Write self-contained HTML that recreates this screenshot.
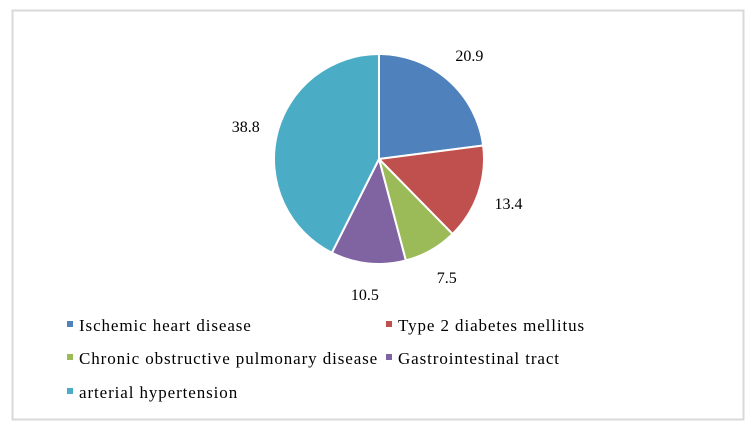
<!DOCTYPE html>
<html><head><meta charset="utf-8"><style>
body{margin:0;width:756px;height:431px;background:#fff;overflow:hidden;position:relative;font-family:"Liberation Serif","Times New Roman","DejaVu Serif",serif}
.t{position:absolute;font-family:"Liberation Serif","Times New Roman","DejaVu Serif",serif;font-size:16px;color:#000;white-space:nowrap;line-height:1}
.lt{font-size:17px;letter-spacing:0.9px}
svg{position:absolute;left:0;top:0}
</style></head><body>
<svg width="756" height="431">
<rect x="12.5" y="10.5" width="731" height="409" fill="#fff" stroke="#d9d9d9" stroke-width="2"/>
<g id="slices"></g><g id="legend"></g>
</svg>
<script>
const categories=["Ischemic heart disease","Type 2 diabetes mellitus","Chronic obstructive pulmonary disease","Gastrointestinal tract","arterial hypertension"];
const values=[20.9,13.4,7.5,10.5,38.8];
const colors=["#4f81bd","#c0504d","#9bbb59","#8064a2","#4bacc6"];
const NS="http://www.w3.org/2000/svg";
const cx=379,cy=159,r=105;
const total=values.reduce((a,b)=>a+b,0);
let a0=0;
const sl=document.getElementById('slices'),lg=document.getElementById('legend');
function pt(a,rr){return [cx+rr*Math.sin(a),cy-rr*Math.cos(a)];}
values.forEach((v,i)=>{
 const a1=a0+v/total*2*Math.PI;
 const p0=pt(a0,r),p1=pt(a1,r);
 const p=document.createElementNS(NS,'path');
 p.setAttribute('d',`M${cx},${cy}L${p0[0]},${p0[1]}A${r},${r} 0 ${a1-a0>Math.PI?1:0} 1 ${p1[0]},${p1[1]}Z`);
 p.setAttribute('fill',colors[i]);p.setAttribute('stroke','#fff');p.setAttribute('stroke-width','2');
 
 
 sl.appendChild(p);
 const m=(a0+a1)/2,lp=pt(m,r+32);
 const t=document.createElement('div');
 t.className='t';
 t.style.left=(lp[0]-14)+'px';t.style.top=(lp[1]-7)+'px';t.style.width='28px';t.style.textAlign='center';
 t.textContent=v;
 
 
 document.body.appendChild(t);
 a0=a1;
});
const lx=[67,386],ly=[325,358,392];
categories.forEach((c,i)=>{
 const x=lx[i%2],y=ly[Math.floor(i/2)];
 const s=document.createElementNS(NS,'rect');
 s.setAttribute('x',x);s.setAttribute('y',y-4);s.setAttribute('width',6);s.setAttribute('height',6);s.setAttribute('fill',colors[i]);
 
 
 lg.appendChild(s);
 const t=document.createElement('div');
 t.className='t lt';
 t.style.left=(x+12)+'px';t.style.top=(y-8)+'px';
 t.textContent=c;
 
 
 document.body.appendChild(t);
});
</script>
</body></html>
